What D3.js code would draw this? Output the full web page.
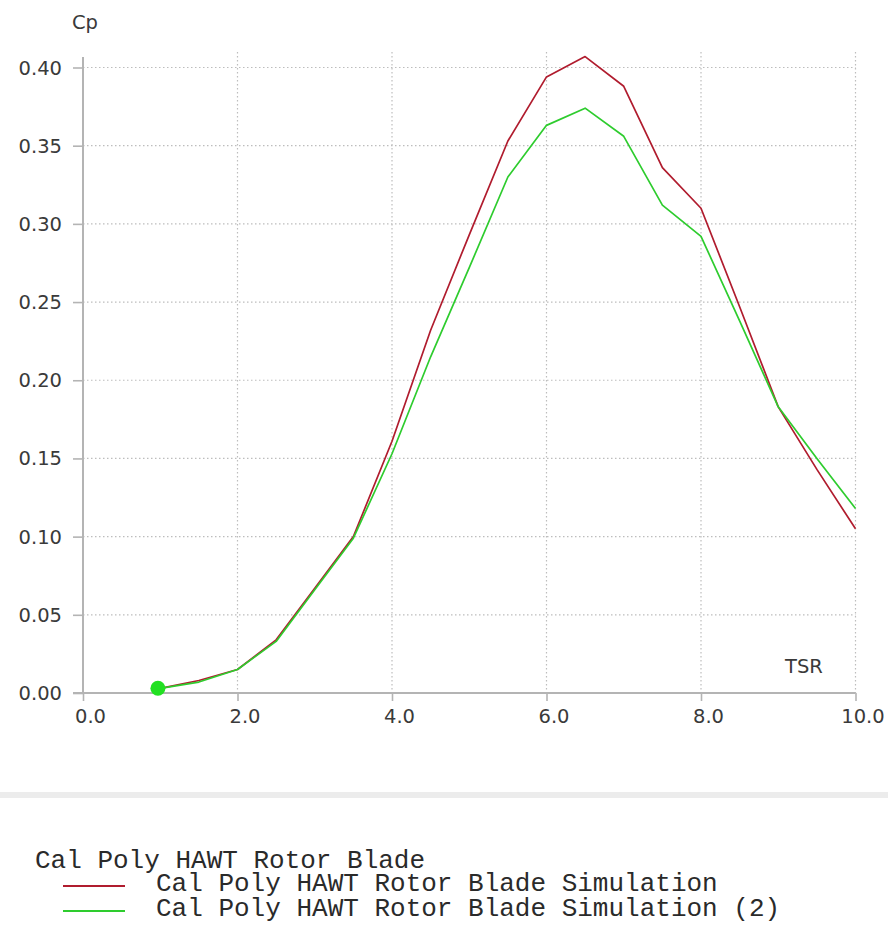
<!DOCTYPE html>
<html><head><meta charset="utf-8">
<script src="https://cdn.jsdelivr.net/npm/d3@7"></script>
<style>body{margin:0;background:#fff}svg{display:block}</style>
</head><body><svg id="c" width="888" height="926"></svg>
<script>
// ---- data ----
const tsr    = [1.0, 1.5, 2.0, 2.5, 3.0, 3.5, 4.0, 4.5, 5.0, 5.5, 6.0, 6.5, 7.0, 7.5, 8.0, 8.5, 9.0, 9.5, 10.0];
const cpSim1 = [0.003, 0.008, 0.015, 0.034, 0.067, 0.100, 0.161, 0.232, 0.293, 0.353, 0.394, 0.407, 0.388, 0.336, 0.310, 0.247, 0.183, 0.143, 0.105];
const cpSim2 = [0.003, 0.007, 0.015, 0.033, 0.066, 0.099, 0.153, 0.215, 0.272, 0.330, 0.363, 0.374, 0.356, 0.312, 0.292, 0.238, 0.183, 0.150, 0.118];
const xTicks = [0, 2, 4, 6, 8, 10];
const yTicks = [0, 0.05, 0.10, 0.15, 0.20, 0.25, 0.30, 0.35, 0.40];
const xTitle = "TSR";
const yTitle = "Cp";
const legendTitle = "Cal Poly HAWT Rotor Blade";
const seriesNames = ["Cal Poly HAWT Rotor Blade Simulation", "Cal Poly HAWT Rotor Blade Simulation (2)"];
const seriesColors = ["#b01c2e", "#2ecc2e"];
const markerTsr = 0.97, markerCp = 0.003;

// ---- chart ----
const svg = d3.select("#c");
const x = d3.scaleLinear().domain([0, 10]).range([83, 855.5]);
const y = d3.scaleLinear().domain([0, 0.40]).range([693, 67.5]);
const font = "'DejaVu Sans', Verdana, sans-serif";
const txt = "#3a3a3a";
const gridCol = "#bdbdbd";
const axisCol = "#b4b4b4";

svg.append("rect").attr("width", 888).attr("height", 926).attr("fill", "#fff");

// grid
const grid = svg.append("g");
grid.selectAll("line.v").data(xTicks.filter(d => d > 0)).join("line")
  .attr("x1", d => x(d)).attr("x2", d => x(d)).attr("y1", 52).attr("y2", y(0))
  .attr("stroke", gridCol).attr("stroke-width", 1.2).attr("stroke-dasharray", "1.5,2.5");
grid.selectAll("line.h").data(yTicks.filter(d => d > 0)).join("line")
  .attr("x1", x(0)).attr("x2", x(10)).attr("y1", d => y(d)).attr("y2", d => y(d))
  .attr("stroke", gridCol).attr("stroke-width", 1.2).attr("stroke-dasharray", "1.5,2.5");

// axes
const yAxis = svg.append("g").attr("transform", `translate(${x(0)},0)`)
  .call(d3.axisLeft(y).tickValues(yTicks).tickFormat(d3.format(".2f")).tickSize(10).tickPadding(11).tickSizeOuter(0));
const xAxis = svg.append("g").attr("transform", `translate(0,${y(0)})`)
  .call(d3.axisBottom(x).tickValues(xTicks).tickFormat(d3.format(".1f")).tickSize(8).tickSizeOuter(0));
[yAxis, xAxis].forEach(a => {
  a.select(".domain").remove();
  a.selectAll(".tick line").attr("stroke", axisCol).attr("stroke-width", 1.6);
  a.selectAll(".tick text").attr("fill", txt).style("font-family", font).style("font-size", "19.5px");
});
yAxis.selectAll(".tick text").attr("dy", null).attr("y", 6.5);
xAxis.selectAll(".tick text").attr("dy", null).attr("y", 30).attr("x", 7);
svg.append("line").attr("x1", x(0)).attr("x2", x(0)).attr("y1", 57).attr("y2", y(0))
  .attr("stroke", axisCol).attr("stroke-width", 2);
svg.append("line").attr("x1", 73).attr("x2", x(10)).attr("y1", y(0)).attr("y2", y(0))
  .attr("stroke", axisCol).attr("stroke-width", 2);

svg.append("text").attr("x", 72).attr("y", 29).text(yTitle)
  .attr("fill", txt).style("font-family", font).style("font-size", "19.5px");
svg.append("text").attr("x", 785).attr("y", 673).text(xTitle)
  .attr("fill", txt).style("font-family", font).style("font-size", "19.5px");

// series
const line = d3.line().x((d, i) => x(tsr[i])).y(d => y(d));
[cpSim1, cpSim2].forEach((s, k) => {
  svg.append("path").datum(s).attr("d", line).attr("fill", "none")
    .attr("stroke", seriesColors[k]).attr("stroke-width", 1.7).attr("stroke-linejoin", "round");
});
svg.append("circle").attr("cx", x(markerTsr)).attr("cy", y(markerCp)).attr("r", 7.5).attr("fill", "#22e022");

// separator
svg.append("rect").attr("x", 0).attr("y", 792).attr("width", 888).attr("height", 6).attr("fill", "#ececec");

// legend
const mono = "'Courier New', 'Liberation Mono', monospace";
svg.append("text").attr("x", 35).attr("y", 868).text(legendTitle)
  .attr("fill", "#2a2a2a").style("font-family", mono).style("font-size", "26px");
seriesNames.forEach((n, k) => {
  const yy = 891 + k * 25;
  svg.append("line").attr("x1", 63).attr("x2", 125).attr("y1", yy - 5).attr("y2", yy - 5)
    .attr("stroke", seriesColors[k]).attr("stroke-width", 2);
  svg.append("text").attr("x", 156).attr("y", yy).text(n)
    .attr("fill", "#2a2a2a").style("font-family", mono).style("font-size", "26px");
});
</script></body></html>
